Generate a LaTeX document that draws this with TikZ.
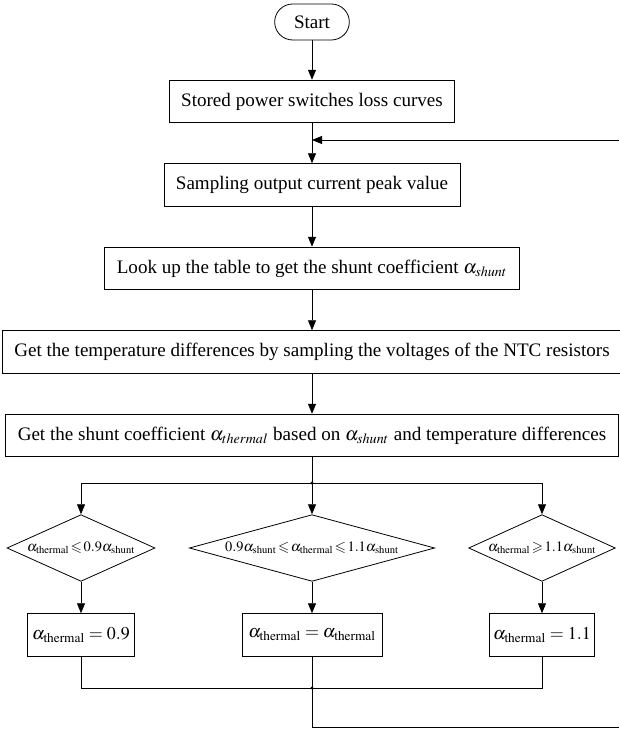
\documentclass[tikz,border=0pt]{standalone}
\usepackage{mathptmx}
\usepackage{amssymb}
\usepackage[no-math]{fontspec}
\setmainfont{Liberation Serif}
\usetikzlibrary{shapes.geometric,arrows.meta}

\newcommand{\tle}{\mathrel{\!\leqslant\!}}
\newcommand{\tge}{\mathrel{\!\geqslant\!}}

\tikzset{
  stepbox/.style={draw, rectangle, minimum height=32pt, inner xsep=9pt, font=\fontsize{14.3}{17}\selectfont},
  startbox/.style={draw, rectangle, rounded corners=13.5pt, minimum width=56pt, minimum height=27pt, font=\fontsize{14.3}{17}\selectfont},
  testbox/.style={draw, diamond, aspect=3, inner sep=0pt, minimum height=50pt, font=\fontsize{10.8}{13}\selectfont},
  valbox/.style={draw, rectangle, minimum height=32pt, inner sep=0pt, font=\fontsize{13.5}{16}\selectfont},
  flow/.style={-{Triangle[length=7.5pt,width=6pt]}},
}

\begin{document}
\begin{tikzpicture}[x=0.75pt,y=-0.75pt,line width=0.6pt]
\useasboundingbox (0,0) rectangle (619,730);

\node[startbox] (start) at (312,22) {Start};
\node[stepbox] (curves) at (312,101.5) {Stored power switches loss curves};
\node[stepbox] (sample) at (312,185) {Sampling output current peak value};
\node[stepbox] (lookup) at (312,268.5) {Look up the table to get the shunt coefficient $\alpha_{shunt}$};
\node[stepbox, minimum width=459pt] (ntc) at (312,352) {Get the temperature differences by sampling the voltages of the NTC resistors};
\node[stepbox, minimum width=459pt] (coef) at (312,435.5) {Get the shunt coefficient $\alpha_{thermal}$ based on $\alpha_{shunt}$ and temperature differences};

\node[testbox, aspect=2.2, minimum width=111pt] (lowt) at (81,548) {$\alpha_{\mathrm{thermal}}\tle0.9\alpha_{\mathrm{shunt}}$}; %lower bound
\node[testbox, aspect=3.7, minimum width=184pt] (midt) at (312,548) {$0.9\alpha_{\mathrm{shunt}}\tle\alpha_{\mathrm{thermal}}\tle1.1\alpha_{\mathrm{shunt}}$}; %in range
\node[testbox, aspect=2.2, minimum width=110pt] (hight) at (542,548) {$\alpha_{\mathrm{thermal}}\tge1.1\alpha_{\mathrm{shunt}}$}; %upper bound

\node[valbox, minimum width=80pt] (lowv) at (81,635) {$\alpha_{\mathrm{thermal}} = 0.9$};
\node[valbox, minimum width=105pt] (midv) at (312,635) {$\alpha_{\mathrm{thermal}} = \alpha_{\mathrm{thermal}}$};
\node[valbox, minimum width=79pt] (highv) at (542,635) {$\alpha_{\mathrm{thermal}} = 1.1$};

\coordinate (split) at (312,483);
\coordinate (merge) at (312,688);
\coordinate (back) at (312,140);
\coordinate (loopT) at (619,140); %loop, top end
\coordinate (loopB) at (619,727); %loop, bottom end

\draw[flow] (start) -- (curves);
\draw[flow] (curves) -- (sample);
\draw[flow] (sample) -- (lookup);
\draw[flow] (lookup) -- (ntc);
\draw[flow] (ntc) -- (coef);
\draw (coef) -- (split);

\draw[flow] (split) -| (lowt);
\draw[flow] (split) -- (midt);
\draw[flow] (split) -| (hight);
\draw[flow] (lowt) -- (lowv);
\draw[flow] (midt) -- (midv);
\draw[flow] (hight) -- (highv);

\draw (lowv) |- (merge);
\draw (highv) |- (merge);
\draw (midv) -- (merge);
\draw (merge) |- (loopB);
\draw[flow] (loopT) -- (back);

\fill (split) circle (1.6);
\fill (merge) circle (1.6);

\end{tikzpicture}
\end{document}
